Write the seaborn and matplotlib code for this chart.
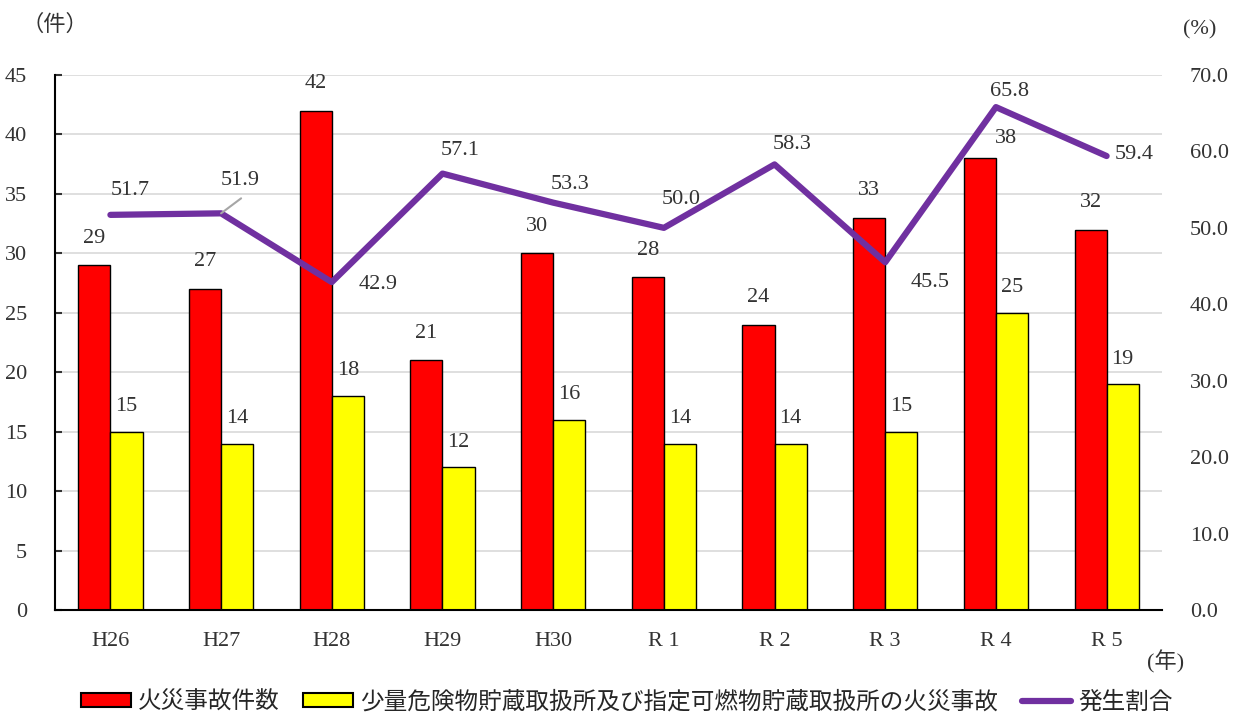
import numpy as np
import pandas as pd
import matplotlib
matplotlib.use("Agg")
import matplotlib.pyplot as plt
import seaborn as sns
from matplotlib.patches import Patch
from matplotlib.lines import Line2D

categories = ["H26", "H27", "H28", "H29", "H30", "R 1", "R 2", "R 3", "R 4", "R 5"]
fires_total = [29, 27, 42, 21, 30, 28, 24, 33, 38, 32]
fires_small = [15, 14, 18, 12, 16, 14, 14, 15, 25, 19]
rate = [51.7, 51.9, 42.9, 57.1, 53.3, 50.0, 58.3, 45.5, 65.8, 59.4]
series_names = ["火災事故件数", "少量危険物貯蔵取扱所及び指定可燃物貯蔵取扱所の火災事故", "発生割合"]

sns.set_theme(style="white")
plt.rcParams['font.family'] = ['Liberation Serif', 'Noto Sans CJK JP', 'DejaVu Sans']

FS = 16
TXT = "#333333"

df = pd.DataFrame({
    "cat": categories * 2,
    "val": fires_total + fires_small,
    "series": [series_names[0]] * len(categories) + [series_names[1]] * len(categories),
})

fig = plt.figure(figsize=(12.43, 7.13), dpi=100)
ax = fig.add_axes([0.0443, 0.1445, 0.8905, 0.7503])

sns.barplot(data=df, x="cat", y="val", hue="series", order=categories,
            hue_order=series_names[:2], palette=["#FF0000", "#FFFF00"], saturation=1,
            width=0.58, gap=0, edgecolor="black", linewidth=1.0,
            legend=False, ax=ax, errorbar=None)

n = len(categories)
ax.set_xlim(-0.5, n - 0.5)
ax.set_ylim(0, 45)
ax.set_yticks(range(0, 46, 5))
ax.yaxis.grid(True, color="#D9D9D9", linewidth=1.2)
ax.set_axisbelow(True)
ax.set_xlabel("")
ax.set_ylabel("")
for s in ["top", "right"]:
    ax.spines[s].set_visible(False)
ax.spines["left"].set_color("black")
ax.spines["bottom"].set_color("black")
ax.spines["left"].set_linewidth(1.5)
ax.spines["bottom"].set_linewidth(1.5)
ax.tick_params(axis="x", length=0, labelsize=FS, pad=16, colors=TXT)
ax.set_xticks(np.arange(-0.5, n, 1.0), minor=True)
ax.tick_params(axis="x", which="minor", direction="in", length=5, width=1.5, color="black")
ax.tick_params(axis="y", direction="in", length=5, width=1.5, labelsize=FS, pad=20, colors=TXT)

# bar labels (offsets in pixels)
offs = 0.145
red_px = [(0, 27)] * n
red_px[8] = (26, 20)
for i in range(n):
    dx, dy = red_px[i]
    ax.annotate(str(fires_total[i]), (i - offs, fires_total[i]), xytext=(dx * 0.72, dy * 0.72),
                textcoords="offset points", ha="center", va="center", fontsize=FS, color=TXT)
    ax.annotate(str(fires_small[i]), (i + offs, fires_small[i]), xytext=(0, 18), textcoords="offset points",
                ha="center", va="center", fontsize=FS, color=TXT)

ax2 = ax.twinx()
sns.lineplot(x=np.arange(n), y=rate, color="#7030A0", linewidth=4.5, ax=ax2, legend=False)
ax2.set_xlim(-0.5, n - 0.5)
ax2.set_ylim(0, 70)
ax2.set_yticks(range(0, 71, 10))
ax2.set_yticklabels([f"{v:.1f}" for v in range(0, 71, 10)])
for s in ["top", "right", "left", "bottom"]:
    ax2.spines[s].set_visible(False)
ax2.tick_params(axis="y", length=0, labelsize=FS, pad=20, colors=TXT)
ax2.grid(False)

# rate labels: offsets in pixels (dx right, dy up)
lab_px = [(20, 24), (19, 33), (46, -2), (18, 23), (17, 18), (17, 28), (18, 20), (45, -20), (14, 16), (28, 2)]
for i, v in enumerate(rate):
    dx, dy = lab_px[i]
    ax2.annotate(f"{v:.1f}", (i, v), xytext=(dx * 0.72, dy * 0.72), textcoords="offset points",
                 ha="center", va="center", fontsize=FS, color=TXT)
# leader line for H27
ax2.annotate("", xy=(1, rate[1]), xytext=(20 * 0.72, 15 * 0.72), textcoords="offset points",
             arrowprops=dict(arrowstyle="-", color="#A6A6A6", lw=1.5, shrinkA=0, shrinkB=0))

fig.text(55 / 1243, 1 - 25 / 713, "（件）", fontsize=FS, color=TXT, ha="center", va="center")
fig.text(1200 / 1243, 1 - 30 / 713, "(%)", fontsize=FS, color=TXT, ha="center", va="center")
fig.text(1166 / 1243, 1 - 662 / 713, "(年)", fontsize=FS, color=TXT, ha="center", va="center")

handles = [Patch(facecolor="#FF0000", edgecolor="black", linewidth=1.5),
           Patch(facecolor="#FFFF00", edgecolor="black", linewidth=1.5),
           Line2D([0], [0], color="#7030A0", linewidth=4.5)]
fig.legend(handles, series_names, loc="center", bbox_to_anchor=(627 / 1243, 1 - 702 / 713), ncol=3,
           frameon=False, fontsize=17, handlelength=2.1, handleheight=0.5, columnspacing=1.0,
           handletextpad=0.3, borderaxespad=0, borderpad=0)

fig.savefig("out.png", dpi=100)
